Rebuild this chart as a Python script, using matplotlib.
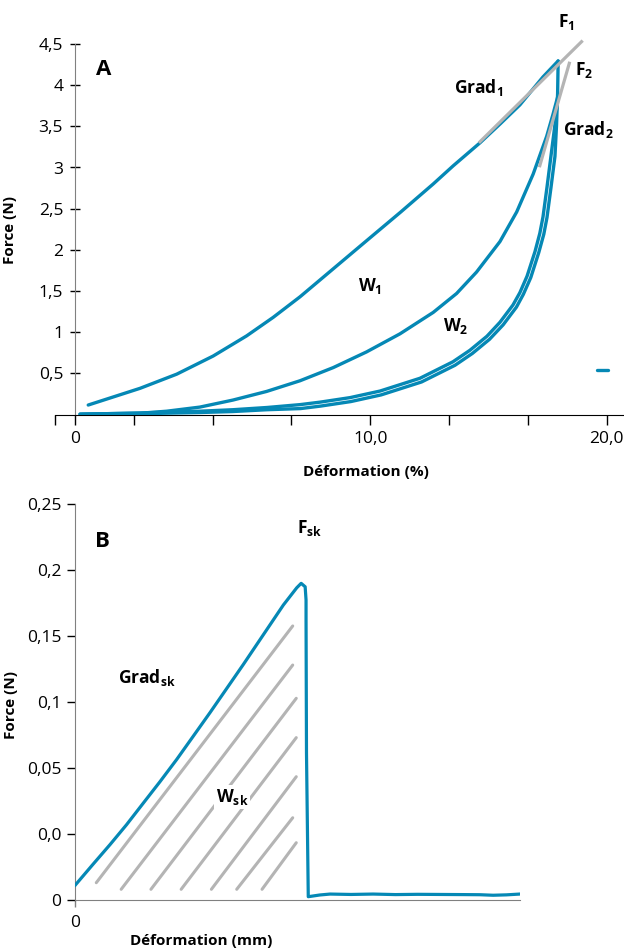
import matplotlib
matplotlib.use("Agg")
import matplotlib.pyplot as plt
from matplotlib import font_manager

# font: humanist sans if available
names = {f.name for f in font_manager.fontManager.ttflist}
FONT = next((n for n in ["Open Sans", "Liberation Sans"] if n in names), "DejaVu Sans")
plt.rcParams["font.family"] = [FONT, "DejaVu Sans"]
plt.rcParams["mathtext.fontset"] = "custom"
plt.rcParams["mathtext.rm"] = FONT
plt.rcParams["mathtext.bf"] = FONT + ":bold"

BLUE = "#0588b5"
GREY = "#b4b4b4"

# ---- panel A: cyclic compression, Deformation (%) vs Force (N)
load1_x = [0.50, 2.45, 3.83, 5.20, 6.46, 7.46, 8.47, 9.72, 10.97, 12.26, 13.48, 14.23, 15.24, 16.00, 16.74, 17.61, 18.18]
load1_f = [0.115, 0.318, 0.49, 0.71, 0.955, 1.18, 1.43, 1.77, 2.11, 2.46, 2.80, 3.02, 3.30, 3.53, 3.76, 4.10, 4.294]

load2_x = [0.19, 2.45, 3.45, 4.70, 5.94, 7.21, 8.47, 9.72, 10.97, 12.23, 13.48, 14.36, 15.11, 15.99, 16.62, 17.24, 17.75, 17.99, 18.18]
load2_f = [0.006, 0.015, 0.04, 0.09, 0.175, 0.28, 0.41, 0.57, 0.76, 0.98, 1.24, 1.47, 1.73, 2.10, 2.46, 2.92, 3.38, 3.65, 3.88]

# unloading after cycle 2 (outer line of the double bundle)
unload2_x = [0.19, 0.94, 2.82, 4.70, 5.94, 7.22, 8.47, 9.22, 10.35, 11.48, 12.98, 14.22, 14.86, 15.50, 15.99, 16.48, 16.74,
             17.01, 17.31, 17.49, 17.61, 17.76, 17.91, 18.06, 18.18]
unload2_f = [0.002, 0.008, 0.022, 0.040, 0.058, 0.085, 0.120, 0.150, 0.205, 0.285, 0.44, 0.64, 0.78, 0.95, 1.12, 1.33, 1.48,
             1.68, 1.98, 2.20, 2.40, 2.76, 3.14, 3.52, 3.88]

# unloading after cycle 1 (inner line)
unload1_x = [0.26, 0.94, 2.82, 4.70, 5.94, 7.22, 8.49, 9.24, 10.38, 11.52, 13.04, 14.30, 14.95, 15.60, 16.11, 16.61, 16.87,
             17.15, 17.45, 17.64, 17.76, 17.91, 18.06, 18.12, 18.16, 18.18]
unload1_f = [0.000, 0.003, 0.012, 0.024, 0.036, 0.058, 0.072, 0.102, 0.157, 0.238, 0.395, 0.598, 0.741, 0.914, 1.089, 1.304,
             1.459, 1.663, 1.966, 2.189, 2.392, 2.755, 3.135, 3.52, 3.90, 4.294]

dash_x = [19.64, 20.07]
dash_f = [0.54, 0.54]

grad1_x = [15.24, 19.06]
grad1_f = [3.313, 4.528]
grad2_x = [17.49, 18.60]
grad2_f = [3.022, 4.266]

a_yticks = [0.5, 1, 1.5, 2, 2.5, 3, 3.5, 4, 4.5]
a_ylabels = ["0,5", "1", "1,5", "2", "2,5", "3", "3,5", "4", "4,5"]
a_xticks = [-0.75, 0, 2.21, 5.18, 8.14, 11.11, 14.08, 17.04, 20.0]
a_xlabels = ["", "0", "", "", "", "10,0", "", "", "20,0"]

# ---- panel B: skin puncture, Deformation (mm) vs Force (N)
b_x = [0.00, 0.40, 0.78, 1.15, 1.53, 1.90, 2.28, 2.65, 3.03, 3.40, 3.78, 4.15, 4.53, 4.68, 4.98, 5.08, 5.17, 5.19, 5.19,
       5.20, 5.24, 5.50, 5.73, 6.2, 6.7, 7.2, 7.7, 8.2, 8.7, 9.1, 9.4, 9.7, 10.0]
b_f = [-0.0386, -0.0228, -0.0080, 0.0070, 0.0235, 0.0395, 0.0565, 0.0740, 0.0920, 0.1100, 0.1285, 0.1470, 0.1660, 0.1735,
       0.1865, 0.1899, 0.1873, 0.1773, 0.1621, 0.0614, -0.0475, -0.0462, -0.0455, -0.0458, -0.0455, -0.0459, -0.0457,
       -0.0458, -0.0459, -0.0460, -0.0464, -0.0461, -0.0455]

# hatching of the work area W_sk
hatch_x0 = [0.47, 1.03, 1.70, 2.38, 3.06, 3.63, 4.20]
hatch_f0 = [-0.0369, -0.0419, -0.0419, -0.0419, -0.0419, -0.0419, -0.0419]
hatch_x1 = [4.89, 4.89, 4.97, 4.97, 4.97, 4.89, 4.97]
hatch_f1 = [0.1576, 0.1280, 0.1028, 0.0730, 0.0434, 0.0123, -0.0066]

b_yticks = [0.25, 0.2, 0.15, 0.1, 0.05, 0.0, -0.05]
b_ylabels = ["0,25", "0,2", "0,15", "0,1", "0,05", "0,0", "0"]

W, H = 624, 951
fig = plt.figure(figsize=(W / 100, H / 100), dpi=100)


def px_axes(l, t, r, b):
    return fig.add_axes([l / W, 1 - b / H, (r - l) / W, (b - t) / H])


# ---------------- A
ax = px_axes(55, 44, 623, 414.5)
for xs, fs in [(load1_x, load1_f), (load2_x, load2_f), (unload1_x, unload1_f), (unload2_x, unload2_f), (dash_x, dash_f)]:
    ax.plot(xs, fs, color=BLUE, lw=2.4, solid_capstyle="round", solid_joinstyle="round", zorder=3)
ax.plot(grad1_x, grad1_f, color=GREY, lw=2.3, zorder=4, clip_on=False)
ax.plot(grad2_x, grad2_f, color=GREY, lw=2.3, zorder=4, clip_on=False)

ax.set_xlim(-0.75, 20.62)
ax.set_ylim(0, 4.5)
ax.spines[["top", "right"]].set_visible(False)
ax.spines["left"].set_position(("data", 0))
ax.spines["left"].set_color("#808080")
ax.spines["bottom"].set_color("black")
ax.set_yticks(a_yticks, a_ylabels)
ax.set_xticks(a_xticks, a_xlabels)
ax.tick_params(axis="y", direction="inout", length=7, width=1, pad=5, labelsize=12.5)
ax.tick_params(axis="x", direction="out", length=7, width=1, pad=5, labelsize=12.5)
ax.get_xticklines()[2].set_color("#808080")

ax.set_ylabel("Force (N)", fontsize=11, fontweight="bold")
ax.yaxis.set_label_coords((16.7 - 55) / 568, 0.498)
ax.set_xlabel("Déformation (%)", fontsize=11, fontweight="bold", va="center")
ax.xaxis.set_label_coords((366 - 55) / 568, (414.5 - 472) / 370.5)

lab = dict(fontsize=12.5, fontweight="bold", va="baseline", ha="left")
ax.text(0.79, 4.124, "A", fontsize=16, fontweight="bold", va="baseline")
ax.text(18.17, 4.710, r"F$_{\mathbf{1}}$", **lab)
ax.text(18.81, 4.124, r"F$_{\mathbf{2}}$", **lab)
ax.text(14.26, 3.909, r"Grad$_{\mathbf{1}}$", **lab)
ax.text(18.37, 3.395, r"Grad$_{\mathbf{2}}$", **lab)
ax.text(10.66, 1.504, r"W$_{\mathbf{1}}$", **lab)
ax.text(13.83, 1.014, r"W$_{\mathbf{2}}$", **lab)

# ---------------- B
bx = px_axes(75.4, 504, 519.8, 900)
for x0, f0, x1, f1 in zip(hatch_x0, hatch_f0, hatch_x1, hatch_f1):
    bx.plot([x0, x1], [f0, f1], color=GREY, lw=2.2, solid_capstyle="round", zorder=2)
bx.plot(b_x, b_f, color=BLUE, lw=2.3, solid_joinstyle="round", zorder=3)

bx.set_xlim(0, 10)
bx.set_ylim(-0.05, 0.25)
bx.spines[["top", "right"]].set_visible(False)
bx.spines["left"].set_color("#808080")
bx.spines["bottom"].set_color("#808080")
bx.set_yticks(b_yticks, b_ylabels)
bx.set_xticks([0], ["0"])
bx.tick_params(axis="y", direction="out", length=6, width=1, pad=4, labelsize=12.5)
bx.tick_params(axis="x", direction="out", length=5, width=1, color="#808080", pad=6, labelsize=12.5)

bx.set_ylabel("Force (N)", fontsize=11, fontweight="bold")
bx.yaxis.set_label_coords((17.9 - 75.4) / 444.4, 0.492)
bx.set_xlabel("Déformation (mm)", fontsize=11, fontweight="bold", va="center")
bx.xaxis.set_label_coords((201 - 75.4) / 444.4, (900 - 941) / 396)

bx.text(0.445, 0.2177, "B", fontsize=16, fontweight="bold", va="baseline")
bx.text(4.98, 0.2278, r"F$_{\mathbf{sk}}$", **lab)
bx.text(0.965, 0.1146, r"Grad$_{\mathbf{sk}}$", **lab)
bx.text(3.16, 0.0245, r"W$_{\mathbf{sk}}$", zorder=5,
        bbox=dict(facecolor="white", edgecolor="none", pad=1.5), **lab)

fig.savefig("out.png", dpi=100)
